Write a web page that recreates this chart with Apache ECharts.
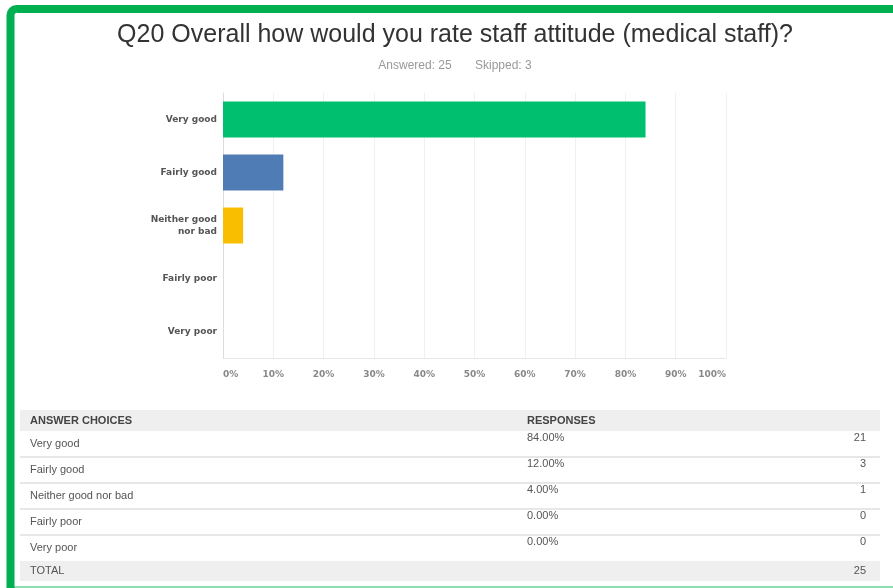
<!DOCTYPE html>
<html>
<head>
<meta charset="utf-8">
<style>
  html, body { margin: 0; padding: 0; background: #fff; }
  #chart { width: 893px; height: 588px; }
</style>
<script src="https://cdn.jsdelivr.net/npm/echarts@6/dist/echarts.min.js"></script>
</head>
<body>
<div id="chart"></div>
<script>
// Survey question Q20: staff attitude (medical staff)
var titleText = 'Q20 Overall how would you rate staff attitude (medical staff)?';
var answered = 25;
var skipped = 3;
var categories = ['Very good', 'Fairly good', 'Neither good\nnor bad', 'Fairly poor', 'Very poor'];
var tableLabels = ['Very good', 'Fairly good', 'Neither good nor bad', 'Fairly poor', 'Very poor'];
var percents = [84, 12, 4, 0, 0];
var counts = [21, 3, 1, 0, 0];
var barColors = ['#00bf6f', '#507cb6', '#f9be00', '#6bc8cd', '#ff8b4f'];
var tickValues = [0, 10, 20, 30, 40, 50, 60, 70, 80, 90, 100];

var chart = echarts.init(document.getElementById('chart'));

// Response table under the chart, built from the arrays above
var tableFont = '11px "Liberation Sans", Arial, sans-serif';
var tableColor = '#555';
var graphics = [];

// green frame (top and left edges; the rest runs off the page)
graphics.push({ type: 'rect', shape: { x: 10.5, y: 9, width: 900, height: 600, r: 6 },
  style: { fill: 'none', stroke: '#00b050', lineWidth: 8 }, z: 10 });
graphics.push({ type: 'line', shape: { x1: 14, y1: 587, x2: 893, y2: 587 },
  style: { stroke: '#8fdcb0', lineWidth: 2 }, z: 9 });

// header band
graphics.push({ type: 'rect', shape: { x: 20, y: 410, width: 860, height: 21 }, style: { fill: '#efefef' } });
graphics.push({ type: 'text', x: 30, y: 421, style: { text: 'ANSWER CHOICES', font: 'bold 11px "Liberation Sans", Arial, sans-serif', fill: '#444', verticalAlign: 'middle' } });
graphics.push({ type: 'text', x: 527, y: 421, style: { text: 'RESPONSES', font: 'bold 11px "Liberation Sans", Arial, sans-serif', fill: '#444', verticalAlign: 'middle' } });

var rowTop = 431;
var rowH = 26;
tableLabels.forEach(function (lab, i) {
  var top = rowTop + i * rowH;
  graphics.push({ type: 'text', x: 30, y: top + 13, style: { text: lab, font: tableFont, fill: tableColor, verticalAlign: 'middle' } });
  graphics.push({ type: 'text', x: 527, y: top + 7, style: { text: percents[i].toFixed(2) + '%', font: tableFont, fill: tableColor, verticalAlign: 'middle' } });
  graphics.push({ type: 'text', x: 866, y: top + 7, style: { text: String(counts[i]), font: tableFont, fill: tableColor, align: 'right', verticalAlign: 'middle' } });
  if (i < tableLabels.length - 1) {
    graphics.push({ type: 'line', shape: { x1: 20, y1: top + rowH, x2: 880, y2: top + rowH }, style: { stroke: '#cfcfcf', lineWidth: 1 } });
  }
});
var totalTop = rowTop + tableLabels.length * rowH;
graphics.push({ type: 'rect', shape: { x: 20, y: totalTop, width: 860, height: 20 }, style: { fill: '#efefef' } });
graphics.push({ type: 'text', x: 30, y: totalTop + 10, style: { text: 'TOTAL', font: tableFont, fill: tableColor, verticalAlign: 'middle' } });
graphics.push({ type: 'text', x: 866, y: totalTop + 10, style: { text: String(answered), font: tableFont, fill: tableColor, align: 'right', verticalAlign: 'middle' } });

chart.setOption({
  animation: false,
  backgroundColor: '#fff',
  title: {
    text: titleText,
    subtext: 'Answered: ' + answered + '       Skipped: ' + skipped,
    left: 450,
    textAlign: 'center',
    top: 18,
    itemGap: 12,
    textStyle: { fontFamily: '"Liberation Sans", Arial, sans-serif', fontSize: 25, fontWeight: 'normal', color: '#333' },
    subtextStyle: { fontFamily: '"Liberation Sans", Arial, sans-serif', fontSize: 12, color: '#999' }
  },
  grid: { left: 223, right: 167, top: 93, height: 265, containLabel: false },
  xAxis: {
    type: 'value',
    min: 0,
    max: 100,
    interval: 10,
    axisLine: { show: true, lineStyle: { color: '#e6e6e6' } },
    axisTick: { show: false },
    splitLine: { show: true, lineStyle: { color: '#f0f0f0' } },
    axisLabel: {
      margin: 12,
      color: '#888',
      fontSize: 9,
      fontWeight: 'bold',
      fontFamily: '"DejaVu Sans", sans-serif',
      alignMinLabel: 'left',
      alignMaxLabel: 'right',
      formatter: function (v) { return tickValues.indexOf(v) >= 0 ? v + '%' : ''; }
    }
  },
  yAxis: {
    type: 'category',
    inverse: true,
    data: categories,
    axisLine: { show: true, lineStyle: { color: '#dcdcdc' } },
    axisTick: { show: false },
    axisLabel: {
      margin: 6,
      color: '#555',
      fontSize: 9,
      fontWeight: 'bold',
      lineHeight: 12,
      align: 'right',
      fontFamily: '"DejaVu Sans", sans-serif'
    }
  },
  series: [{
    type: 'bar',
    barWidth: 36,
    data: percents.map(function (v, i) {
      return { value: v, itemStyle: { color: barColors[i] } };
    })
  }],
  graphic: graphics
});
</script>
</body>
</html>
